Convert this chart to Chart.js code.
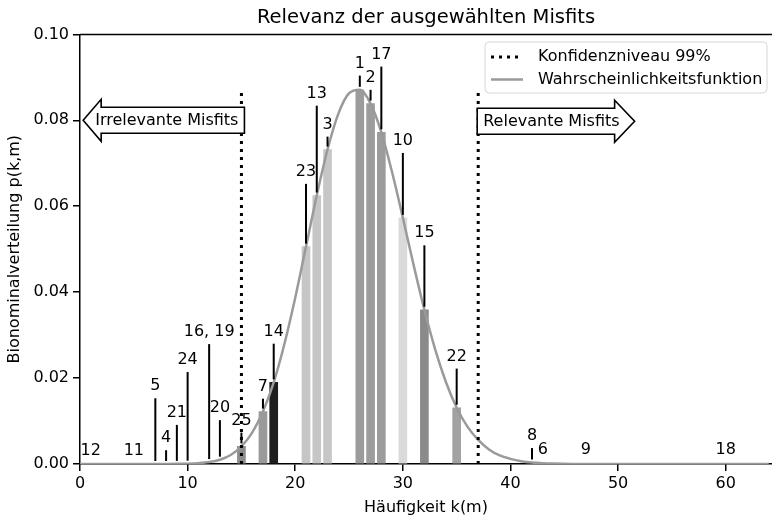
<!DOCTYPE html>
<html>
<head>
<meta charset="utf-8">
<script src="https://cdn.jsdelivr.net/npm/chart.js@4.4.1/dist/chart.umd.min.js"></script>
<style>
  html, body { margin: 0; padding: 0; background: #fff; overflow: hidden; }
</style>
</head>
<body>
<canvas id="chart" width="772" height="522"></canvas>
<script>
// k values and binomial probabilities
const kValues = [0, 1, 2, 3, 4, 5, 6, 7, 8, 9, 10, 11, 12, 13, 14, 15, 16, 17, 18, 19, 20,
  21, 22, 23, 24, 25, 26, 27, 28, 29, 30, 31, 32, 33, 34, 35, 36, 37, 38, 39, 40,
  41, 42, 43, 44, 45, 46, 47, 48, 49, 50, 51, 52, 53, 54, 55, 56, 57, 58, 59, 60,
  61, 62, 63, 64]
const pmfValues = [0, 0, 0, 0, 0, 0, 0, 0, 0.00001, 0.00003, 0.00008, 0.0002, 0.00045, 0.001, 0.0021,
  0.0041, 0.0073, 0.0122, 0.019, 0.028, 0.0387, 0.0506, 0.0625, 0.0732, 0.0815, 0.0863,
  0.0871, 0.0839, 0.0772, 0.0679, 0.0573, 0.0463, 0.0359, 0.0267, 0.0191, 0.0131, 0.0087,
  0.0056, 0.0034, 0.002, 0.0012, 0.00065, 0.00035, 0.00018, 0.00009, 0.00004, 0.00002,
  0, 0, 0, 0, 0, 0, 0, 0, 0, 0, 0, 0, 0, 0, 0, 0, 0, 0, 0]

// selected misfits: name, k and height of the label text
const misfitNames = ['12', '11', '5', '4', '21', '24', '16, 19', '20', '25', '7', '14', '23',
  '13', '3', '1', '2', '17', '10', '15', '22', '8', '6', '9', '18']
const misfitK = [1, 5, 7, 8, 9, 10, 12, 13, 15, 17, 18, 21, 22, 23, 26, 27, 28, 30, 32, 35, 42, 43, 47, 60]
const misfitTextY = [0.003, 0.003, 0.0181, 0.006, 0.0119, 0.0242, 0.0307, 0.013, 0.0101, 0.018, 0.0308, 0.068,
  0.0862, 0.079, 0.0932, 0.0899, 0.0953, 0.0752, 0.0537, 0.025, 0.0065, 0.0033, 0.0033, 0.0033]

// bars drawn for the misfits inside the distribution
const barK = [15, 17, 18, 21, 22, 23, 26, 27, 28, 30, 32, 35]
const barColors = ['#8c8c8c', '#9a9a9a', '#1e1e1e', '#c6c6c6', '#c6c6c6', '#c6c6c6',
  '#9c9c9c', '#9c9c9c', '#9c9c9c', '#dadada', '#8a8a8a', '#a2a2a2']

// 99% confidence bounds
const confidenceK = [15, 37]
const confidenceTop = 0.087

const FONT = '"DejaVu Sans", sans-serif'

function pmfAt(k) {
  return pmfValues[kValues.indexOf(k)]
}

function roundRect(ctx, x, y, w, h, r) {
  ctx.beginPath()
  ctx.moveTo(x + r, y)
  ctx.lineTo(x + w - r, y)
  ctx.arcTo(x + w, y, x + w, y + r, r)
  ctx.lineTo(x + w, y + h - r)
  ctx.arcTo(x + w, y + h, x + w - r, y + h, r)
  ctx.lineTo(x + r, y + h)
  ctx.arcTo(x, y + h, x, y + h - r, r)
  ctx.lineTo(x, y + r)
  ctx.arcTo(x, y, x + r, y, r)
  ctx.closePath()
}

// draws a box arrow like matplotlib's larrow / rarrow
function boxArrow(ctx, text, anchorX, cy, dir) {
  ctx.font = '16px ' + FONT
  const w = ctx.measureText(text).width
  const bodyH = 13, headH = 21
  let textLeft, pts
  if (dir < 0) {
    const bodyRight = anchorX + 3
    textLeft = bodyRight - 6 - w
    const base = textLeft + 6, tip = textLeft - 12
    pts = [[tip, cy], [base, cy - headH], [base, cy - bodyH], [bodyRight, cy - bodyH],
      [bodyRight, cy + bodyH], [base, cy + bodyH], [base, cy + headH]]
  } else {
    const bodyLeft = anchorX - 1
    textLeft = bodyLeft + 6
    const textRight = textLeft + w
    const base = textRight - 5, tip = textRight + 15
    pts = [[bodyLeft, cy - bodyH], [base, cy - bodyH], [base, cy - headH], [tip, cy],
      [base, cy + headH], [base, cy + bodyH], [bodyLeft, cy + bodyH]]
  }
  ctx.beginPath()
  pts.forEach((p, i) => i ? ctx.lineTo(p[0], p[1]) : ctx.moveTo(p[0], p[1]))
  ctx.closePath()
  ctx.fillStyle = '#fff'
  ctx.fill()
  ctx.lineWidth = 1.6
  ctx.strokeStyle = '#000'
  ctx.stroke()
  ctx.fillStyle = '#000'
  ctx.textAlign = 'left'
  ctx.textBaseline = 'middle'
  ctx.fillText(text, textLeft, cy + 1)
}

// center the title over the plot area like matplotlib does
const titleOverAxesPlugin = {
  id: 'titleOverAxes',
  afterLayout(chart) {
    const t = chart.titleBlock
    if (t) {
      t.left = chart.chartArea.left
      t.right = chart.chartArea.right
    }
  }
}

const misfitLabelPlugin = {
  id: 'misfitLabels',
  afterDatasetsDraw(chart) {
    const { ctx, scales: { x, y } } = chart
    ctx.save()
    ctx.font = '16px ' + FONT
    ctx.textAlign = 'center'
    ctx.textBaseline = 'middle'
    ctx.fillStyle = '#000'
    ctx.strokeStyle = '#000'
    ctx.lineWidth = 2
    misfitNames.forEach((name, i) => {
      const px = x.getPixelForValue(misfitK[i])
      const bottom = y.getPixelForValue(pmfAt(misfitK[i])) - 3
      const ty = y.getPixelForValue(misfitTextY[i])
      const top = ty + 12
      if (bottom - top > 1) {
        ctx.beginPath()
        ctx.moveTo(px, bottom)
        ctx.lineTo(px, top)
        ctx.stroke()
      }
      ctx.fillText(name, px, ty)
    })
    ctx.restore()
  }
}

const decorPlugin = {
  id: 'decor',
  afterDraw(chart) {
    const { ctx, chartArea: a, scales: { x, y } } = chart
    ctx.save()
    // top frame line
    ctx.strokeStyle = '#000'
    ctx.lineWidth = 1.5
    ctx.beginPath()
    ctx.moveTo(a.left, a.top)
    ctx.lineTo(a.right, a.top)
    ctx.stroke()

    // arrows
    const cy = y.getPixelForValue(0.08)
    boxArrow(ctx, 'Irrelevante Misfits', x.getPixelForValue(confidenceK[0]), cy, -1)
    boxArrow(ctx, 'Relevante Misfits', x.getPixelForValue(confidenceK[1]), cy + 1, 1)

    // legend
    const lx = 485, ly = 42, lw = 282, lh = 51
    roundRect(ctx, lx, ly, lw, lh, 4)
    ctx.fillStyle = 'rgba(255,255,255,0.85)'
    ctx.fill()
    ctx.strokeStyle = '#d6d6d6'
    ctx.lineWidth = 1
    ctx.stroke()
    const items = [chart.data.datasets[0], chart.data.datasets[1]]
    ctx.font = '16px ' + FONT
    ctx.textAlign = 'left'
    ctx.textBaseline = 'middle'
    items.forEach((ds, i) => {
      const ry = ly + 15 + i * 22.5
      ctx.beginPath()
      ctx.moveTo(491, ry)
      ctx.lineTo(523, ry)
      ctx.strokeStyle = ds.borderColor
      ctx.lineWidth = ds.borderWidth
      ctx.setLineDash(ds.borderDash || [])
      ctx.stroke()
      ctx.setLineDash([])
      ctx.fillStyle = '#000'
      ctx.fillText(ds.label, 538, ry)
    })
    ctx.restore()
  }
}

const confidenceData = []
confidenceK.forEach((k, i) => {
  if (i) confidenceData.push({ x: (confidenceK[i - 1] + k) / 2, y: null })
  confidenceData.push({ x: k, y: 0 }, { x: k, y: confidenceTop })
})

new Chart(document.getElementById('chart'), {
  type: 'bar',
  data: {
    datasets: [
      {
        type: 'line',
        label: 'Konfidenzniveau 99%',
        data: confidenceData,
        borderColor: '#000',
        borderWidth: 3,
        borderDash: [3, 5],
        pointRadius: 0,
        spanGaps: false,
        order: 0
      },
      {
        type: 'line',
        label: 'Wahrscheinlichkeitsfunktion',
        data: kValues.map((k, i) => ({ x: k, y: pmfValues[i] })),
        borderColor: '#9a9a9a',
        borderWidth: 2.5,
        pointRadius: 0,
        cubicInterpolationMode: 'monotone',
        order: 1
      },
      {
        type: 'bar',
        label: 'Misfits',
        data: barK.map(k => ({ x: k, y: pmfAt(k) })),
        backgroundColor: barColors,
        barThickness: 8,
        order: 2
      }
    ]
  },
  options: {
    responsive: false,
    animation: false,
    layout: { padding: 0 },
    plugins: {
      legend: { display: false },
      tooltip: { enabled: false },
      title: {
        display: true,
        text: 'Relevanz der ausgewählten Misfits',
        color: '#000',
        font: { family: FONT, size: 19.5, weight: 'normal' },
        padding: { top: 6, bottom: 5 }
      }
    },
    scales: {
      x: {
        type: 'linear',
        min: 0,
        max: 64.3,
        offset: false,
        afterFit: s => { s.height = 58 },
        ticks: { stepSize: 10, includeBounds: false, color: '#000', font: { family: FONT, size: 16 }, padding: 3, maxRotation: 0 },
        grid: { offset: false, drawOnChartArea: false, color: '#000', lineWidth: 1.5, tickLength: 7 },
        border: { color: '#000', width: 1.5 },
        title: { display: true, text: 'Häufigkeit k(m)', color: '#000', font: { family: FONT, size: 16 }, padding: { top: 0, bottom: 5 } }
      },
      y: {
        min: 0,
        max: 0.1,
        afterFit: s => { s.width = 80 },
        ticks: { stepSize: 0.02, color: '#000', font: { family: FONT, size: 16 }, padding: 4, callback: v => v.toFixed(2) },
        grid: { drawOnChartArea: false, color: '#000', lineWidth: 1.5, tickLength: 7 },
        border: { color: '#000', width: 1.5 },
        title: { display: true, text: 'Bionominalverteilung p(k,m)', color: '#000', font: { family: FONT, size: 16 }, padding: { top: 5, bottom: 0 } }
      }
    }
  },
  plugins: [titleOverAxesPlugin, misfitLabelPlugin, decorPlugin]
})
</script>
</body>
</html>
